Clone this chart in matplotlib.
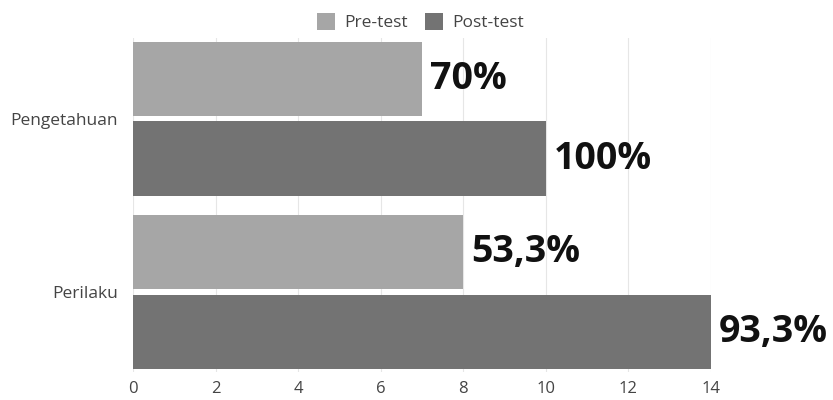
import matplotlib
matplotlib.use("Agg")
import matplotlib.pyplot as plt
import numpy as np

plt.rcParams['font.family'] = ['Open Sans', 'DejaVu Sans']

categories = ["Pengetahuan", "Perilaku"]
series_names = ["Pre-test", "Post-test"]
pre_values = [7, 8]
post_values = [10, 14]
pre_labels = ["70%", "53,3%"]
post_labels = ["100%", "93,3%"]
xticks = [0, 2, 4, 6, 8, 10, 12, 14]

pre_color = "#a6a6a6"
post_color = "#737373"

fig = plt.figure(figsize=(8.33, 4.0), dpi=100)
ax = fig.add_axes([0.16, 0.069, 0.6935, 0.835])

y = np.arange(len(categories))
h = 0.43
off = 0.23
bars_pre = ax.barh(y - off, pre_values, height=h, color=pre_color, label=series_names[0], zorder=3)
bars_post = ax.barh(y + off, post_values, height=h, color=post_color, label=series_names[1], zorder=3)

for bars, labels in ((bars_pre, pre_labels), (bars_post, post_labels)):
    for b, lab in zip(bars, labels):
        ax.text(b.get_width() + 0.2, b.get_y() + b.get_height() / 2, lab,
                ha="left", va="center", fontsize=27, fontweight="bold", color="#111111", zorder=4)

ax.set_xlim(0, 14)
ax.set_ylim(1.465, -0.465)
ax.set_yticks(y)
ax.set_yticklabels(categories, fontsize=12.5, color="#444444")
ax.set_xticks(xticks)
ax.set_xticklabels([str(t) for t in xticks], fontsize=12, color="#444444")
ax.tick_params(axis="y", length=0, pad=11)
ax.tick_params(axis="x", length=0, pad=6)
ax.grid(axis="x", color="#e6e6e6", linewidth=0.8, zorder=0)
for s in ax.spines.values():
    s.set_visible(False)

ax.legend(loc="lower center", bbox_to_anchor=(0.497, 0.995), ncol=2, frameon=False,
          fontsize=12.5, handlelength=1.05, handleheight=1.05, columnspacing=1.0,
          handletextpad=0.5, labelcolor="#444444", borderaxespad=0.1)

fig.savefig("out.png", dpi=100)
